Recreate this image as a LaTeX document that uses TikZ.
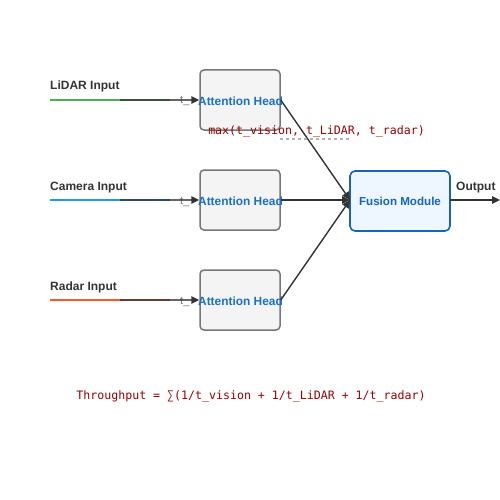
\documentclass[tikz,border=0pt]{standalone}
\usepackage{fontspec}
\setmainfont{Liberation Sans}
\newfontfamily\monof{DejaVu Sans Mono}
\usetikzlibrary{arrows.meta}
\definecolor{dark}{HTML}{333333}
\definecolor{headborder}{HTML}{777777}
\definecolor{headfill}{HTML}{F4F4F4}
\definecolor{bluetext}{HTML}{1A6FD1}
\definecolor{fusborder}{HTML}{1565C0}
\definecolor{fusfill}{HTML}{EEF6FF}
\definecolor{formula}{HTML}{990000}
\definecolor{lidarc}{HTML}{4CAF50}
\definecolor{camerac}{HTML}{2196F3}
\definecolor{radarc}{HTML}{FF5722}
\definecolor{tlbl}{HTML}{777777}
\begin{document}
\begin{tikzpicture}[x=1pt,y=-1pt,
  headbox/.style={draw=headborder, fill=headfill, line width=1.5pt, rounded corners=4pt,
    minimum width=80pt, minimum height=60pt, inner sep=0pt},
  headlbl/.style={inner sep=0pt, text=bluetext, font=\bfseries\fontsize{11.9}{13}\selectfont},
  fusbox/.style={draw=fusborder, fill=fusfill, line width=1.6pt, rounded corners=5pt,
    minimum width=100pt, minimum height=60pt, inner sep=0pt, text=fusborder,
    font=\bfseries\fontsize{11.6}{13}\selectfont},
  inlbl/.style={anchor=base west, inner sep=0pt, text=dark, font=\bfseries\fontsize{12}{14}\selectfont},
  tlabel/.style={anchor=base west, inner sep=0pt, text=tlbl, font=\fontsize{11}{13}\selectfont},
  feed/.style={line width=1.6pt},
  conn/.style={draw=dark, line width=1.5pt, draw opacity=0.75},
  tipper/.style={draw=dark, fill=dark, line width=1.5pt, -{Triangle[length=8pt,width=7.5pt]}},
  link/.style={draw=dark, line width=1.4pt, -{Triangle[length=8pt,width=7.5pt]}},
  formulatxt/.style={inner sep=0pt, text=formula, font=\monof\fontsize{11.6}{14}\selectfont},
  guide/.style={draw=gray!60, line width=1.2pt, dashed}
]
\useasboundingbox (0,0) rectangle (500,500);

% attention heads and fusion module
\node[headbox] (ah1) at (240,100) {};
\node[headbox] (ah2) at (240,200) {};
\node[headbox] (ah3) at (240,300) {};
\node[fusbox] (fus) at (400,201) {Fusion Module};

% input labels
\node[inlbl] (l1) at (50,90) {LiDAR Input};
\node[inlbl] (l2) at (50,190) {Camera Input};
\node[inlbl] (l3) at (50,290) {Radar Input};
\node[inlbl] (lout) at (456,190) {Output};

% input line coordinates
\coordinate (a1) at (50,100);  \coordinate (b1) at (120,100); \coordinate (c1) at (170,100);
\coordinate (a2) at (50,200);  \coordinate (b2) at (120,200); \coordinate (c2) at (170,200);
\coordinate (a3) at (50,300);  \coordinate (b3) at (120,300); \coordinate (c3) at (170,300);

% small latency labels
\node[tlabel] (t1) at (180,104) {t\_};
\node[tlabel] (t2) at (180,204) {t\_};
\node[tlabel] (t3) at (180,304) {t\_};

% coloured feeds
\draw[feed, draw=lidarc] (a1) -- (c1);
\draw[feed, draw=camerac] (a2) -- (c2);
\draw[feed, draw=radarc] (a3) -- (c3);

% connectors into attention heads
\draw[conn] (b1) -- ([xshift=-7pt]ah1.west);
\draw[conn] (b2) -- ([xshift=-7pt]ah2.west);
\draw[conn] (b3) -- ([xshift=-7pt]ah3.west);
\draw[tipper, shorten <=72pt] (b1) -- (ah1.west);
\draw[tipper, shorten <=72pt] (b2) -- (ah2.west);
\draw[tipper, shorten <=72pt] (b3) -- (ah3.west);

% head labels
\node[headlbl] (h1) at (240.5,101.2) {Attention Head};
\node[headlbl] (h2) at (240.5,201.2) {Attention Head};
\node[headlbl] (h3) at (240.5,301.2) {Attention Head};

% heads to fusion
\coordinate (fin) at (350,200);
\draw[link] (ah1.east) -- (fin);
\draw[link] (ah2.east) -- (fin);
\draw[link] (ah3.east) -- (fin);

% output
\coordinate (fout) at (450,200);
\coordinate (outend) at (500,200);
\draw[link] (fout) -- (outend);

% formulas
\coordinate (g1) at (280,139); \coordinate (g2) at (350,139);
\draw[guide] (g1) -- (g2);
\node[formulatxt] (maxf) at (316.5,131.5) {max(t\_vision, t\_LiDAR, t\_radar)};
\node[formulatxt] (thr) at (251,396.5) {Throughput = ∑(1/t\_vision + 1/t\_LiDAR + 1/t\_radar)};
\end{tikzpicture}
\end{document}
